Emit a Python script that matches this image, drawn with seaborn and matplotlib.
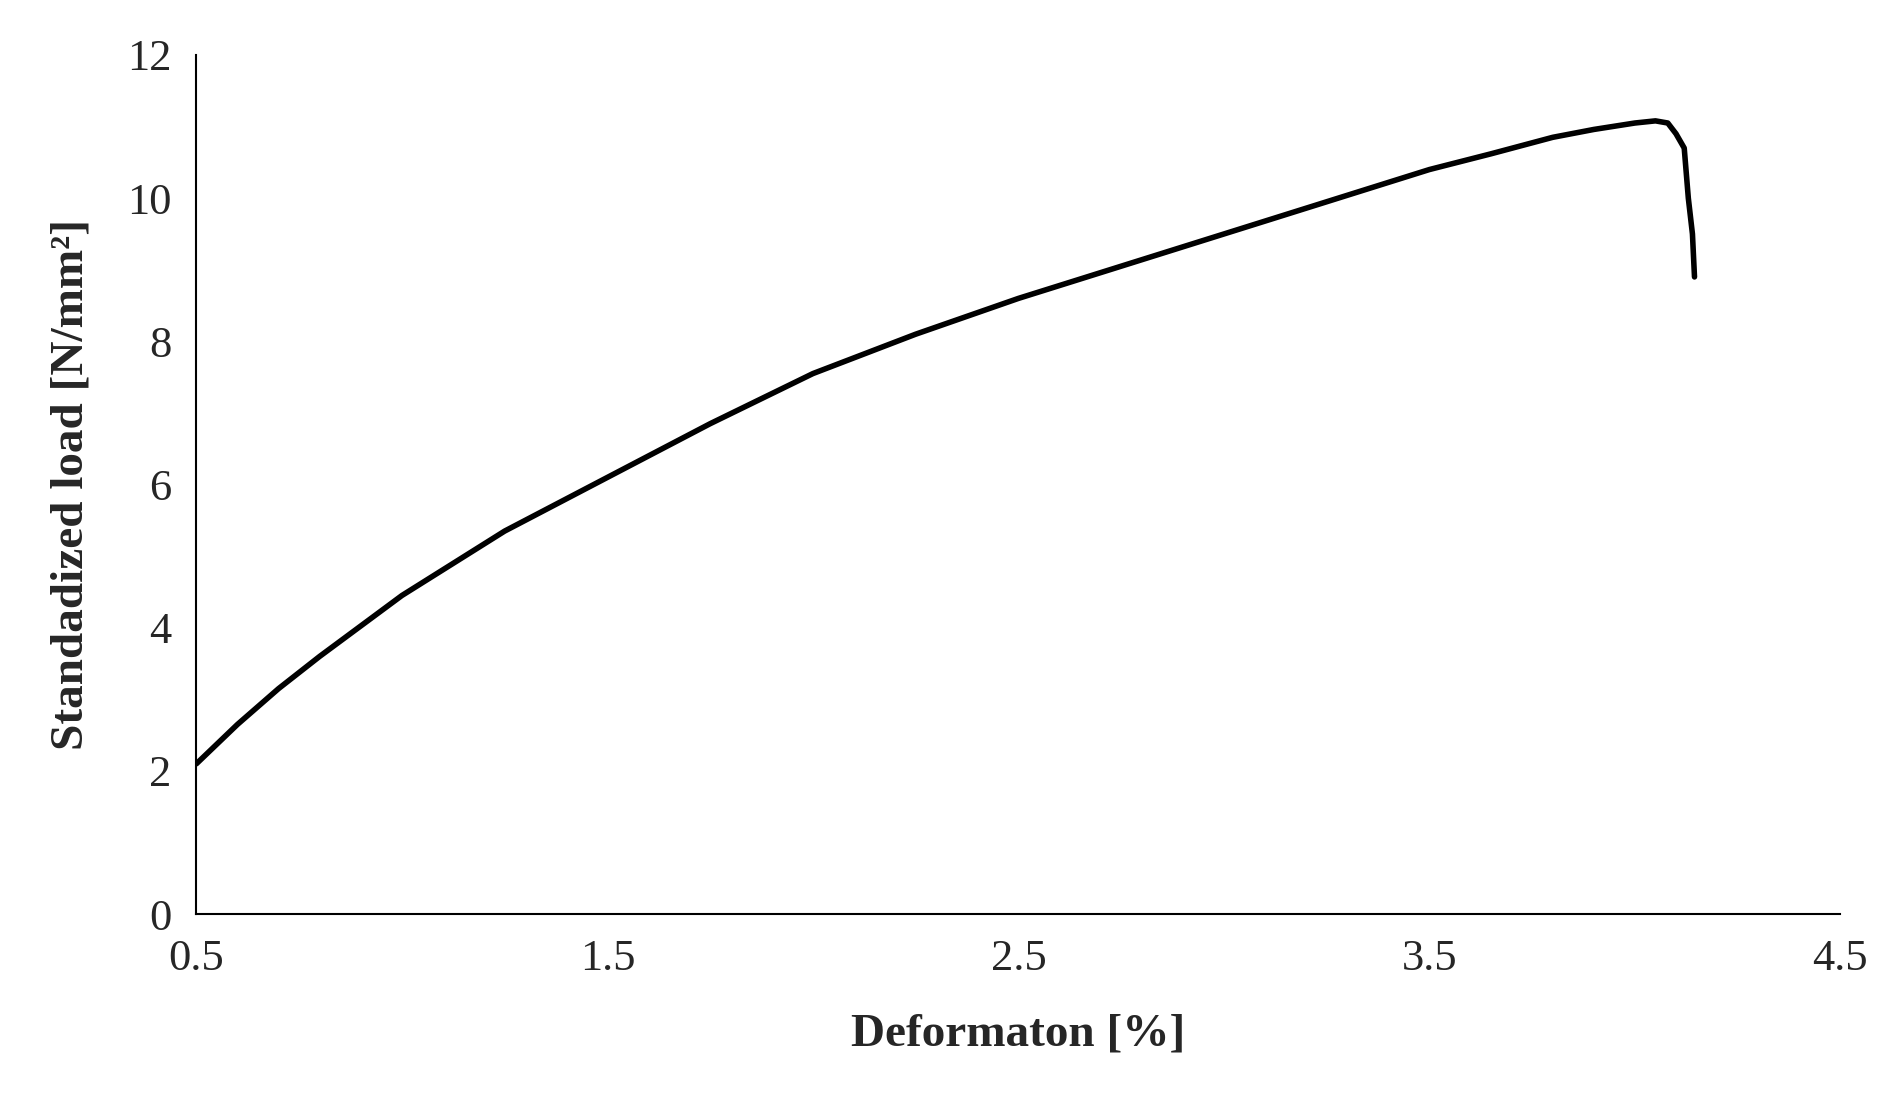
import matplotlib
matplotlib.use("Agg")
import matplotlib.pyplot as plt
import seaborn as sns
import pandas as pd

deformation = [0.5, 0.6, 0.7, 0.8, 1.0, 1.25, 1.5, 1.75, 2.0, 2.25, 2.5, 2.75, 3.0, 3.25, 3.5, 3.65, 3.8, 3.9, 4.0, 4.05, 4.08, 4.1, 4.12, 4.13, 4.14, 4.145]
load = [2.1, 2.65, 3.15, 3.6, 4.45, 5.35, 6.1, 6.85, 7.55, 8.1, 8.6, 9.05, 9.5, 9.95, 10.4, 10.62, 10.85, 10.96, 11.05, 11.08, 11.05, 10.9, 10.7, 10.0, 9.5, 8.9]

df = pd.DataFrame({"x": deformation, "y": load})
sns.set_theme(style="white")
plt.rcParams['font.family'] = ['Liberation Serif', 'DejaVu Serif']

fig = plt.figure(figsize=(18.94, 11), dpi=100)
ax = fig.add_axes([0.1037, 0.169, 0.868, 0.781])
sns.lineplot(data=df, x="x", y="y", ax=ax, color="black", linewidth=4, sort=False)
ax.set_xlim(0.5, 4.5)
ax.set_ylim(0, 12)
ax.set_xticks([0.5, 1.5, 2.5, 3.5, 4.5])
ax.set_yticks(range(0, 13, 2))
ax.tick_params(labelsize=32, length=0, pad=18)
for s in ["top", "right"]:
    ax.spines[s].set_visible(False)
for s in ["left", "bottom"]:
    ax.spines[s].set_color("black")
    ax.spines[s].set_linewidth(1.5)
ax.set_xlabel("Deformaton [%]", fontsize=34, fontweight="bold", labelpad=25)
ax.set_ylabel("Standadized load [N/mm²]", fontsize=34, fontweight="bold", labelpad=25)
fig.savefig("out.png", dpi=100)
